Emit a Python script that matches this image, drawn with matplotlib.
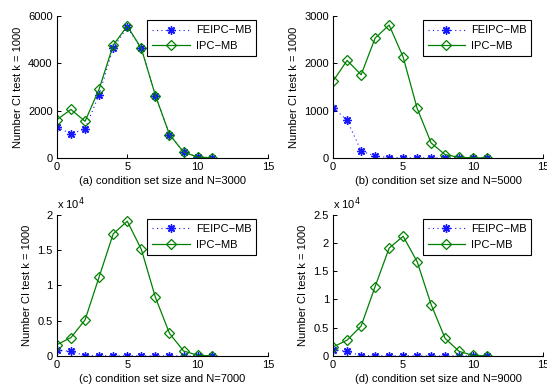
import numpy as np
import matplotlib
matplotlib.use("Agg")
import matplotlib.pyplot as plt

# 조건 집합 크기
set_size = list(range(12))

# (a) N=3000
fe_3000  = [1310, 1020, 1230, 2680, 4660, 5520, 4630, 2640, 990, 250, 40, 5]
ipc_3000 = [1620, 2050, 1550, 2910, 4770, 5580, 4630, 2640, 990, 250, 40, 5]
# (b) N=5000
fe_5000  = [1063, 796, 148, 42, 7, 3, 2, 2, 1, 1, 0, 0]
ipc_5000 = [1627, 2063, 1760, 2535, 2810, 2134, 1049, 317, 70, 14, 2, 0]
# (c) N=7000 (x 10^4)
fe_7000  = [0.08, 0.066, 0.005, 0.002, 0.001, 0.001, 0.001, 0.0, 0.0, 0.0, 0.0, 0.0]
ipc_7000 = [0.16, 0.26, 0.51, 1.12, 1.73, 1.91, 1.51, 0.83, 0.32, 0.07, 0.01, 0.0]
# (d) N=9000 (x 10^4)
fe_9000  = [0.11, 0.08, 0.005, 0.002, 0.001, 0.001, 0.001, 0.0, 0.0, 0.0, 0.0, 0.0]
ipc_9000 = [0.16, 0.28, 0.53, 1.23, 1.91, 2.12, 1.67, 0.91, 0.31, 0.08, 0.01, 0.0]

panels = [
    ("(a) condition set size and N=3000", fe_3000, ipc_3000, [0, 2000, 4000, 6000], 6000, False),
    ("(b) condition set size and N=5000", fe_5000, ipc_5000, [0, 1000, 2000, 3000], 3000, False),
    ("(c) condition set size and N=7000", fe_7000, ipc_7000, [0, 0.5, 1, 1.5, 2], 2, True),
    ("(d) condition set size and N=9000", fe_9000, ipc_9000, [0, 0.5, 1, 1.5, 2, 2.5], 2.5, True),
]

plt.rcParams["font.family"] = ["Liberation Sans", "DejaVu Sans"]
plt.rcParams["font.size"] = 8

fig = plt.figure(figsize=(5.47, 3.92), dpi=100)
boxes = [
    [0.104, 0.597, 0.386, 0.362],
    [0.609, 0.597, 0.384, 0.362],
    [0.104, 0.092, 0.386, 0.360],
    [0.609, 0.092, 0.384, 0.360],
]

for box, (label, fe, ipc, yticks, ymax, sci) in zip(boxes, panels):
    ax = fig.add_axes(box)
    ax.plot(set_size, fe, linestyle=(0, (1, 3)), color="#0000FF", marker=(8, 2, 0),
            markersize=6, markeredgewidth=1.0, linewidth=0.8, alpha=0.9,
            label="FEIPC\u2212MB")
    ax.plot(set_size, ipc, linestyle="-", color="#008000", marker="D",
            markersize=5.5, markerfacecolor="none", markeredgewidth=0.9,
            linewidth=0.9, label="IPC\u2212MB")
    ax.set_xlim(0, 15)
    ax.set_ylim(0, ymax)
    ax.set_xticks([0, 5, 10, 15])
    ax.set_yticks(yticks)
    ax.set_yticklabels([f"{t:g}" for t in yticks])
    ax.spines[["top", "right"]].set_visible(False)
    ax.tick_params(direction="in", length=3, width=0.7, pad=3)
    for s in ["left", "bottom"]:
        ax.spines[s].set_linewidth(0.8)
    ax.set_xlabel(label, labelpad=3)
    ax.set_ylabel("Number CI test k = 1000", labelpad=4)
    if sci:
        ax.text(0.0, 1.02, "x 10$^4$", transform=ax.transAxes,
                ha="left", va="bottom", fontsize=8)
    leg = ax.legend(loc="upper right", bbox_to_anchor=(0.955, 0.985),
                    fancybox=False, edgecolor="black", framealpha=1,
                    borderpad=0.45, handlelength=3.4, handletextpad=0.5,
                    labelspacing=0.5, borderaxespad=0.2, fontsize=8)
    leg.get_frame().set_linewidth(0.8)

fig.savefig("out.png", dpi=100)
